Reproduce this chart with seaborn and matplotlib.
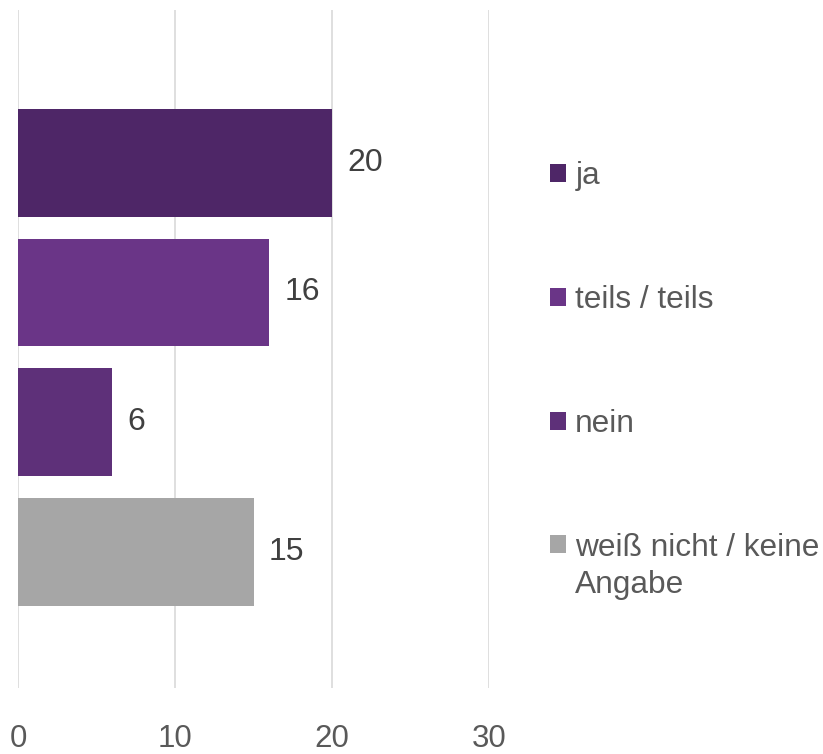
import matplotlib
matplotlib.use("Agg")
import matplotlib.pyplot as plt
from matplotlib.patches import Rectangle
from matplotlib.legend_handler import HandlerPatch
import seaborn as sns
import pandas as pd

categories = ["ja", "teils / teils", "nein", "weiß nicht / keine\nAngabe"]
values = [20, 16, 6, 15]
colors = ["#4E2667", "#6A3587", "#5E3079", "#A6A6A6"]
x_ticks = [0, 10, 20, 30]

sns.set_theme(style="white")
plt.rcParams["font.family"] = ["Liberation Sans", "DejaVu Sans"]

df = pd.DataFrame({"Antwort": categories, "Anzahl": values})

fig = plt.figure(figsize=(8.23, 7.54), dpi=100)
W, H = 823, 754
ax = fig.add_axes([18 / W, 1 - 688 / H, (489 - 18) / W, (688 - 10) / H])

sns.barplot(data=df, x="Anzahl", y="Antwort", hue="Antwort",
            palette=colors, orient="h", width=0.83, ax=ax,
            legend=False, saturation=1, linewidth=0, edgecolor="none")

ax.set_xlim(0, 30)
ax.set_ylim(4.05, -1.177)
ax.set_xticks(x_ticks)
ax.set_xticklabels([str(t) for t in x_ticks])
ax.set_yticks([])
ax.set_xlabel("")
ax.set_ylabel("")
for s in ax.spines.values():
    s.set_visible(False)
ax.grid(axis="x", color="#D9D9D9", linewidth=1.2)
ax.set_axisbelow(True)
ax.tick_params(axis="x", length=0, pad=26, labelsize=22.5, labelcolor="#595959")

for cont in ax.containers:
    ax.bar_label(cont, labels=[f"{v:g}" for v in cont.datavalues],
                 padding=11, fontsize=23, color="#404040")

bars = [c.patches[0] for c in ax.containers]


class SquareHandler(HandlerPatch):
    def __init__(self, shift=0.0):
        super().__init__()
        self.shift = shift

    def create_artists(self, legend, orig_handle, xdescent, ydescent,
                       width, height, fontsize, trans):
        p = Rectangle((-xdescent, -ydescent + self.shift), width, height,
                      facecolor=orig_handle.get_facecolor(), edgecolor="none")
        p.set_transform(trans)
        return [p]


handler_map = {b: SquareHandler() for b in bars}
handler_map[bars[-1]] = SquareHandler(shift=16.5)

leg = fig.legend(bars, categories, loc="upper left",
                 bbox_to_anchor=(550 / W, 1 - 161 / H),
                 frameon=False, fontsize=22.8, labelcolor="#595959",
                 handlelength=0.5, handleheight=0.5, handletextpad=0.3,
                 labelspacing=2.97, borderpad=0, borderaxespad=0,
                 handler_map=handler_map)
leg.get_texts()[-1].set_linespacing(1.3)

fig.savefig("out.png", dpi=100)
